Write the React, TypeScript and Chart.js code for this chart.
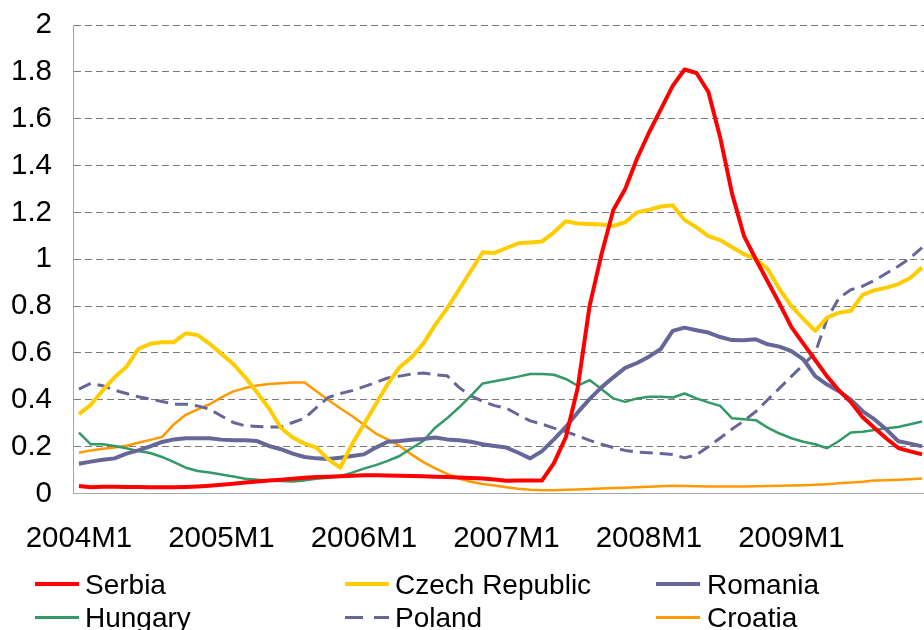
import React, { useEffect, useRef } from "react";
import { Chart, registerables } from "chart.js";

Chart.register(...registerables);

// ---------- data ----------
const years = [2004, 2005, 2006, 2007, 2008, 2009];
const months: string[] = years.flatMap((y) =>
  Array.from({ length: 12 }, (_, m) => `${y}M${m + 1}`)
);

const serbia = [
  0.032, 0.027, 0.029, 0.029, 0.028, 0.028, 0.027, 0.027, 0.027, 0.028, 0.03, 0.033,
  0.037, 0.042, 0.047, 0.051, 0.055, 0.059, 0.063, 0.067, 0.07, 0.072, 0.074, 0.076,
  0.078, 0.078, 0.077, 0.076, 0.075, 0.074, 0.072, 0.07, 0.068, 0.066, 0.064, 0.06,
  0.054, 0.055, 0.055, 0.056, 0.13, 0.24, 0.45, 0.8, 1.02, 1.21, 1.3, 1.43,
  1.54, 1.64, 1.74, 1.81, 1.795, 1.715, 1.52, 1.28, 1.1, 1.0, 0.905, 0.81,
  0.71, 0.64, 0.57, 0.5, 0.44, 0.39, 0.325, 0.28, 0.235, 0.194, 0.18, 0.167,
];

const czech = [
  0.339, 0.379, 0.44, 0.496, 0.541, 0.617, 0.639, 0.646, 0.646, 0.684, 0.676, 0.639,
  0.596, 0.553, 0.496, 0.431, 0.364, 0.281, 0.239, 0.213, 0.196, 0.146, 0.11, 0.21,
  0.296, 0.381, 0.467, 0.539, 0.581, 0.64, 0.72, 0.79, 0.87, 0.95, 1.03, 1.027,
  1.048, 1.068, 1.072, 1.076, 1.115, 1.162, 1.153, 1.151, 1.148, 1.142, 1.158, 1.2,
  1.211, 1.225, 1.23, 1.168, 1.136, 1.099, 1.082, 1.051, 1.022, 1.001, 0.958, 0.872,
  0.8, 0.745, 0.694, 0.751, 0.772, 0.78, 0.848, 0.868, 0.879, 0.894, 0.92, 0.965,
];

const romania = [
  0.127, 0.136, 0.144, 0.15, 0.17, 0.184, 0.201, 0.22, 0.231, 0.236, 0.236, 0.236,
  0.23, 0.227, 0.227, 0.224, 0.203, 0.189, 0.17, 0.156, 0.15, 0.147, 0.153, 0.16,
  0.167, 0.196, 0.221, 0.224, 0.229, 0.233, 0.239, 0.231, 0.227, 0.221, 0.21, 0.203,
  0.196, 0.174, 0.15, 0.181, 0.231, 0.284, 0.346, 0.403, 0.453, 0.496, 0.536, 0.557,
  0.584, 0.617, 0.694, 0.708, 0.697, 0.687, 0.668, 0.655, 0.654, 0.658, 0.637, 0.627,
  0.608, 0.573, 0.501, 0.465, 0.437, 0.401, 0.351, 0.316, 0.273, 0.223, 0.213, 0.201,
];

const hungary = [
  0.26, 0.21, 0.21, 0.203, 0.193, 0.181, 0.173, 0.156, 0.134, 0.11, 0.096, 0.09,
  0.081, 0.073, 0.063, 0.059, 0.056, 0.053, 0.051, 0.056, 0.063, 0.067, 0.074, 0.089,
  0.106, 0.121, 0.139, 0.16, 0.193, 0.224, 0.281, 0.321, 0.367, 0.417, 0.47, 0.479,
  0.489, 0.499, 0.51, 0.51, 0.507, 0.489, 0.46, 0.484, 0.446, 0.406, 0.391, 0.406,
  0.413, 0.413, 0.41, 0.427, 0.406, 0.389, 0.374, 0.321, 0.317, 0.313, 0.281, 0.256,
  0.236, 0.221, 0.21, 0.193, 0.224, 0.26, 0.264, 0.271, 0.279, 0.284, 0.296, 0.307,
];

const poland = [
  0.446, 0.47, 0.46, 0.441, 0.427, 0.413, 0.403, 0.393, 0.381, 0.381, 0.374, 0.36,
  0.331, 0.303, 0.289, 0.286, 0.284, 0.284, 0.303, 0.321, 0.367, 0.41, 0.427, 0.439,
  0.456, 0.474, 0.493, 0.501, 0.51, 0.514, 0.507, 0.503, 0.453, 0.417, 0.393, 0.375,
  0.364, 0.336, 0.31, 0.296, 0.279, 0.264, 0.246, 0.227, 0.21, 0.196, 0.184, 0.177,
  0.174, 0.171, 0.167, 0.152, 0.165, 0.2, 0.237, 0.275, 0.31, 0.35, 0.4, 0.45,
  0.5, 0.55, 0.6, 0.745, 0.835, 0.87, 0.885, 0.91, 0.94, 0.97, 1.005, 1.05,
];

const croatia = [
  0.174, 0.184, 0.191, 0.196, 0.204, 0.217, 0.229, 0.241, 0.296, 0.336, 0.359, 0.381,
  0.41, 0.436, 0.45, 0.461, 0.467, 0.471, 0.474, 0.474, 0.436, 0.399, 0.364, 0.331,
  0.293, 0.256, 0.231, 0.203, 0.167, 0.134, 0.107, 0.084, 0.064, 0.05, 0.041, 0.034,
  0.027, 0.02, 0.016, 0.014, 0.014, 0.016, 0.017, 0.019, 0.021, 0.023, 0.025, 0.027,
  0.029, 0.031, 0.033, 0.032, 0.031, 0.03, 0.03, 0.03, 0.03, 0.031, 0.032, 0.033,
  0.034, 0.035, 0.037, 0.04, 0.044, 0.047, 0.05, 0.055, 0.057, 0.059, 0.061, 0.064,
];

const seriesNames = ["Serbia", "Czech Republic", "Romania", "Hungary", "Poland", "Croatia"];
const seriesData = [serbia, czech, romania, hungary, poland, croatia];

// ---------- styles ----------
const seriesColors = ["#FF0000", "#FFCC00", "#666699", "#339966", "#666699", "#FF9900"];
const seriesWidths = [4, 4, 4, 2.5, 3, 2.5];
const seriesDashes: number[][] = [[], [], [], [], [13, 7], []];
const legendLineThickness = [4, 4, 4, 3, 3, 3];

const FONT = "'Liberation Sans', Arial, Helvetica, sans-serif";

// legend layout (3 columns x 2 rows)
const legendLineX = [35, 345, 656];
const legendTextX = [85, 395, 707];
const legendLineY = [584, 617];
const legendBaseline = [595, 628];

export default function App() {
  const ref = useRef<HTMLCanvasElement | null>(null);

  useEffect(() => {
    if (!ref.current) return;
    const chart = new Chart(ref.current, {
      type: "line",
      data: {
        labels: months,
        datasets: seriesNames.map((name, k) => ({
          label: name,
          data: seriesData[k],
          borderColor: seriesColors[k],
          backgroundColor: seriesColors[k],
          borderWidth: seriesWidths[k],
          borderDash: seriesDashes[k],
          pointRadius: 0,
          pointHoverRadius: 0,
          tension: 0,
          fill: false,
          borderJoinStyle: "round" as const,
          borderCapStyle: "butt" as const,
        })),
      },
      options: {
        responsive: false,
        animation: false,
        events: [],
        layout: { padding: { top: 25, right: 0, bottom: 0, left: 0 } },
        plugins: {
          legend: { display: false },
          tooltip: { enabled: false },
          title: { display: false },
        },
        scales: {
          x: {
            type: "category",
            offset: true,
            grid: { display: false, drawTicks: false },
            border: { display: true, color: "#a6a6a6", width: 1 },
            ticks: {
              autoSkip: false,
              maxRotation: 0,
              minRotation: 0,
              padding: 28,
              color: "#000000",
              font: { family: FONT, size: 29.5 },
              callback: (_v: any, i: number) =>
                months[i].endsWith("M1") ? months[i] : "",
            },
            afterFit: (s: any) => {
              s.height = 136.5;
              s.paddingLeft = 0;
              s.paddingRight = 0;
            },
          },
          y: {
            min: 0,
            max: 2,
            ticks: {
              stepSize: 0.2,
              padding: 21,
              color: "#000000",
              font: { family: FONT, size: 29.5 },
              callback: (v: any) => String(Number(Number(v).toFixed(1))),
            },
            grid: {
              drawTicks: false,
              lineWidth: 1,
              color: (ctx: any) =>
                ctx.tick && ctx.tick.value === 0 ? "rgba(0,0,0,0)" : "#7a7a7a",
            },
            border: { display: true, color: "#a6a6a6", width: 1, dash: [7, 4] },
            afterFit: (s: any) => {
              s.width = 73;
              s.paddingTop = 0;
              s.paddingBottom = 0;
            },
          },
        },
      },
    });
    return () => chart.destroy();
  }, []);

  return (
    <div
      style={{
        position: "fixed",
        left: 0,
        top: 0,
        width: 924,
        height: 630,
        overflow: "hidden",
        background: "#ffffff",
      }}
    >
      <canvas
        ref={ref}
        width={928}
        height={630}
        style={{ display: "block", position: "absolute", left: 0, top: 0 }}
      />
      {seriesNames.map((name, k) => {
        const col = k % 3;
        const row = Math.floor(k / 3);
        const th = legendLineThickness[k];
        const dashed = seriesDashes[k].length > 0;
        return (
          <React.Fragment key={name}>
            <div
              style={{
                position: "absolute",
                left: legendLineX[col],
                top: legendLineY[row] - th / 2,
                width: 44,
                height: th,
                background: dashed
                  ? `repeating-linear-gradient(to right, ${seriesColors[k]} 0px, ${seriesColors[k]} 18px, transparent 18px, transparent 29px)`
                  : seriesColors[k],
              }}
            />
            <div
              style={{
                position: "absolute",
                left: legendTextX[col],
                top: legendBaseline[row] - 26.7,
                fontFamily: FONT,
                fontSize: 28,
                lineHeight: "34px",
                color: "#000000",
                whiteSpace: "nowrap",
              }}
            >
              {name}
            </div>
          </React.Fragment>
        );
      })}
    </div>
  );
}
